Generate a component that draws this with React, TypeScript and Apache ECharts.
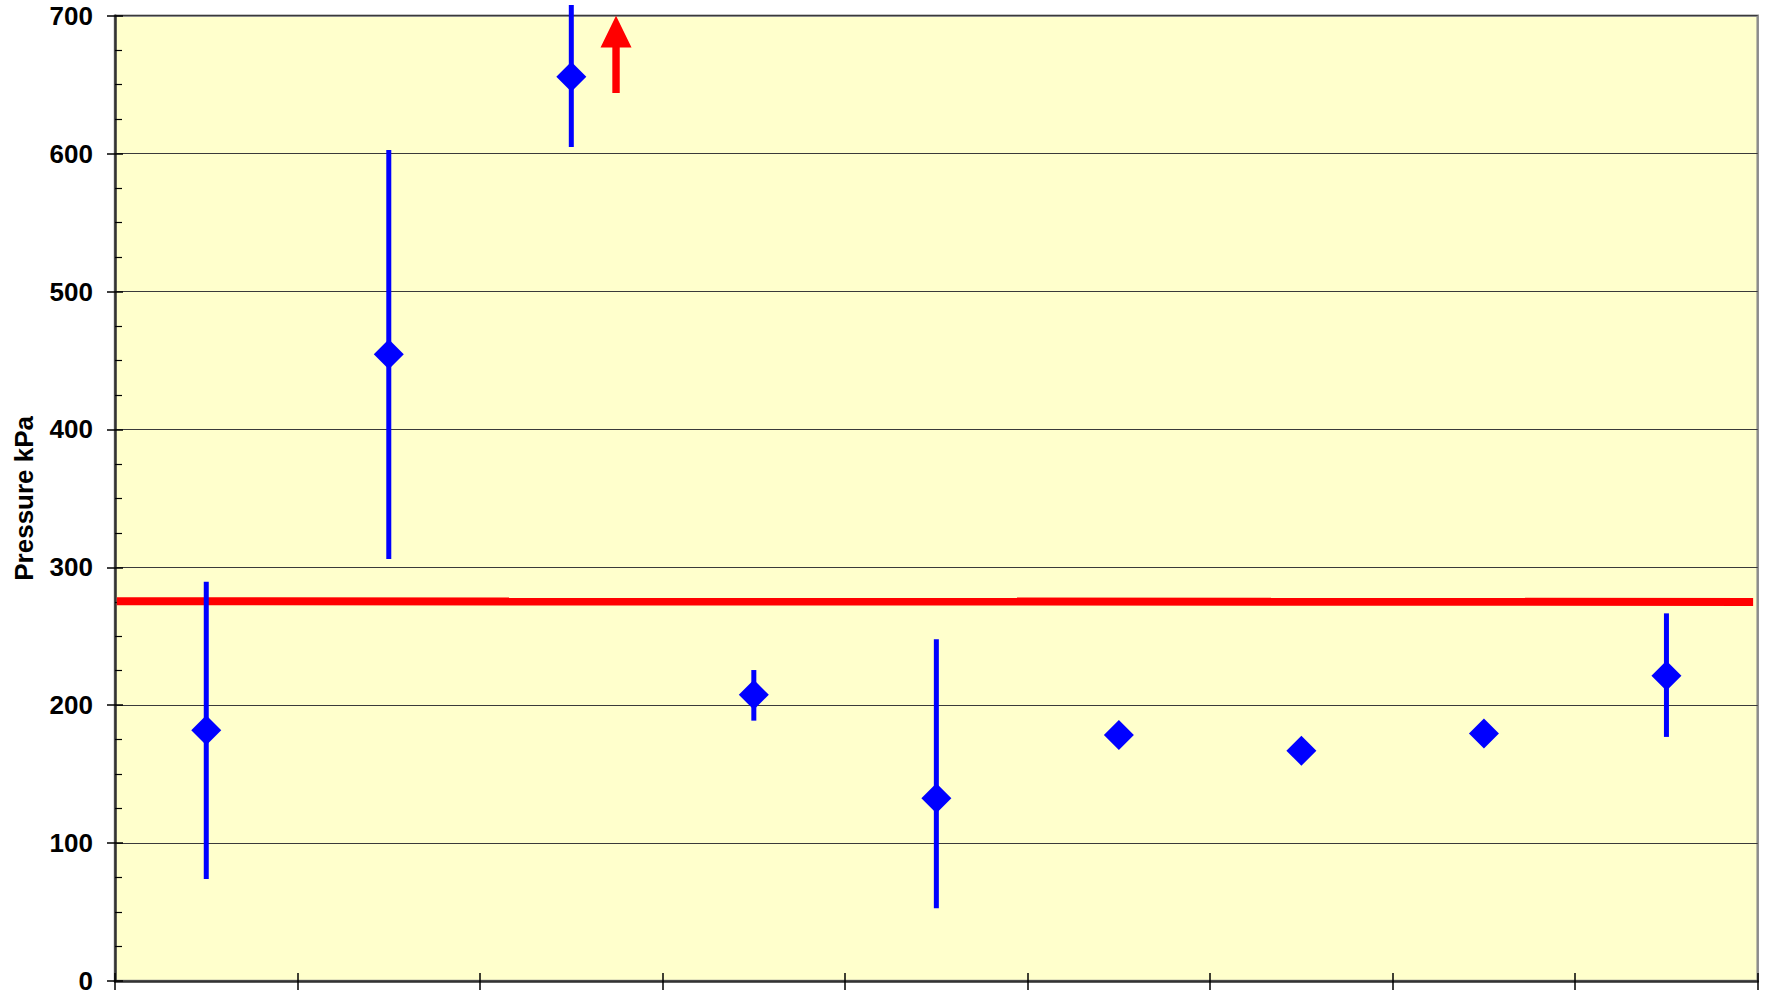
import { useEffect, useRef } from "react";
import * as echarts from "echarts";

// Horizontal slot of each measurement (one per unit of the x scale)
const positions = [0.5, 1.5, 2.5, 3.5, 4.5, 5.5, 6.5, 7.5, 8.5];
// Mean pressure (kPa)
const pressure = [181.8, 454.5, 655.8, 207.6, 132.5, 178.4, 167.0, 179.4, 221.4];
// Error bar limits (kPa); null where no bar is drawn
const errHigh: (number | null)[] = [289.6, 602.6, 707.8, 225.5, 247.8, null, null, null, 266.6];
const errLow: (number | null)[] = [74.0, 306.0, 604.8, 188.8, 52.7, null, null, null, 177.0];
// Reference limit line: [x, kPa] end points
const limitLine = [
  [0.01, 275.4],
  [8.975, 274.9],
];
// Off-scale indicator arrow: x, tail, head base, tip (kPa)
const arrowMark = [[2.745, 644, 677, 700]];
// Y scale
const yMin = 0;
const yMax = 700;
const yStep = 100;

const FONT = "'Liberation Sans', Arial, sans-serif";

export default function App() {
  const ref = useRef<HTMLDivElement>(null);

  useEffect(() => {
    if (!ref.current) return;
    const chart = echarts.init(ref.current, undefined, { renderer: "svg" });

    const errData = positions
      .map((x, i) => [x, errLow[i], errHigh[i]])
      .filter((d) => d[1] != null && d[2] != null);

    const baseX = { type: "value", min: 0, max: 9, interval: 1, gridIndex: 0 };
    const baseY = { type: "value", min: yMin, max: yMax, interval: yStep, gridIndex: 0 };

    chart.setOption({
      animation: false,
      backgroundColor: "#ffffff",
      grid: {
        left: 115,
        top: 15.7,
        right: 9.3,
        bottom: 15,
        show: true,
        backgroundColor: "#FFFFCC",
        borderColor: "#8c8c8c",
        borderWidth: 2.5,
      },
      xAxis: [
        {
          ...baseX,
          position: "bottom",
          axisLine: { show: true, onZero: false, lineStyle: { color: "#333", width: 2.5 } },
          axisTick: { show: true, inside: false, length: 9, lineStyle: { color: "#000", width: 1.5 } },
          axisLabel: { show: false },
          splitLine: { show: false },
        },
        {
          ...baseX,
          position: "bottom",
          axisLine: { show: false, onZero: false },
          axisTick: { show: true, inside: true, length: 8, lineStyle: { color: "#000", width: 1.5 } },
          axisLabel: { show: false },
          splitLine: { show: false },
        },
      ],
      yAxis: [
        {
          ...baseY,
          position: "left",
          name: "Pressure kPa",
          nameLocation: "middle",
          nameRotate: 90,
          nameGap: 78,
          nameTextStyle: { fontFamily: FONT, fontWeight: "bold", fontSize: 26, color: "#000" },
          axisLine: { show: true, onZero: false, lineStyle: { color: "#333", width: 2.5 } },
          axisTick: { show: true, inside: false, length: 8, lineStyle: { color: "#000", width: 1.5 } },
          axisLabel: {
            show: true,
            margin: 22,
            fontFamily: FONT,
            fontWeight: "bold",
            fontSize: 26,
            color: "#000",
          },
          splitLine: { show: true, lineStyle: { color: "#3a3a3a", width: 1 } },
        },
        {
          ...baseY,
          position: "left",
          axisLine: { show: false, onZero: false },
          axisTick: { show: true, inside: true, length: 8, lineStyle: { color: "#000", width: 1.5 } },
          minorTick: { show: true, splitNumber: 4, length: 7, lineStyle: { color: "#000", width: 1.2 } },
          axisLabel: { show: false },
          splitLine: { show: false },
        },
      ],
      series: [
        {
          type: "line",
          xAxisIndex: 0,
          yAxisIndex: 0,
          data: limitLine,
          symbol: "none",
          lineStyle: { color: "#FF0000", width: 8, cap: "butt" },
          silent: true,
          z: 3,
        },
        {
          type: "custom",
          xAxisIndex: 0,
          yAxisIndex: 0,
          clip: false,
          data: errData,
          encode: { x: 0, y: [1, 2] },
          renderItem: (_p: any, api: any) => {
            const lo = api.coord([api.value(0), api.value(1)]);
            const hi = api.coord([api.value(0), api.value(2)]);
            return {
              type: "line",
              shape: { x1: lo[0], y1: lo[1], x2: hi[0], y2: hi[1] },
              style: { stroke: "#0000FF", lineWidth: 5, lineCap: "butt" },
            };
          },
          z: 4,
        },
        {
          type: "scatter",
          xAxisIndex: 0,
          yAxisIndex: 0,
          data: positions.map((x, i) => [x, pressure[i]]),
          symbol: "diamond",
          symbolSize: 30,
          itemStyle: { color: "#0000FF", opacity: 1 },
          z: 5,
        },
        {
          type: "custom",
          xAxisIndex: 0,
          yAxisIndex: 0,
          clip: false,
          data: arrowMark,
          encode: { x: 0, y: [1, 3] },
          renderItem: (_p: any, api: any) => {
            const tail = api.coord([api.value(0), api.value(1)]);
            const base = api.coord([api.value(0), api.value(2)]);
            const tip = api.coord([api.value(0), api.value(3)]);
            const cx = tip[0];
            const sw = 3.7;
            const hw = 15.5;
            return {
              type: "polygon",
              shape: {
                points: [
                  [cx - sw, tail[1]],
                  [cx - sw, base[1]],
                  [cx - hw, base[1]],
                  [cx, tip[1]],
                  [cx + hw, base[1]],
                  [cx + sw, base[1]],
                  [cx + sw, tail[1]],
                ],
              },
              style: { fill: "#FF0000" },
            };
          },
          z: 6,
        },
      ],
    });

    return () => chart.dispose();
  }, []);

  return (
    <div
      ref={ref}
      style={{ position: "fixed", left: 0, top: 0, width: 1767, height: 996, background: "#fff" }}
    />
  );
}
